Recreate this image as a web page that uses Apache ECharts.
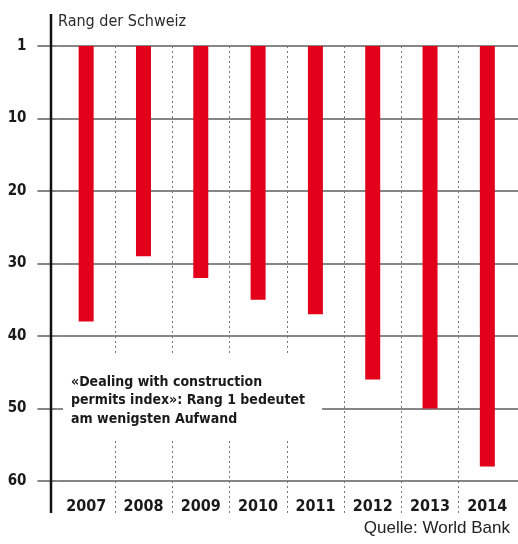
<!DOCTYPE html>
<html>
<head>
<meta charset="utf-8">
<script src="https://cdn.jsdelivr.net/npm/echarts@6/dist/echarts.min.js"></script>
<style>
html, body { margin: 0; padding: 0; background: #fff; }
#chart { width: 518px; height: 544px; }
</style>
</head>
<body>
<div id="chart"></div>
<script>
var years = ['2007', '2008', '2009', '2010', '2011', '2012', '2013', '2014'];
var rank = [38, 29, 32, 35, 37, 46, 50, 58];
var rankTicks = [0, 10, 20, 30, 40, 50, 60];

var narrow = "'Liberation Sans Narrow', 'DejaVu Sans Condensed', 'Roboto Condensed', sans-serif";
var gridColor = '#5e5e5e';

// axis 0 is labelled "1" (rank one)
function rankLabel(v) {
    return v === 0 ? '1' : String(v);
}

var chart = echarts.init(document.getElementById('chart'));

chart.setOption({
    animation: false,
    backgroundColor: '#fff',
    grid: { left: 57.5, right: 2, top: 46, bottom: 31 },
    xAxis: {
        type: 'category',
        data: years,
        axisLine: { show: false },
        axisTick: { show: false },
        axisLabel: {
            inside: true,
            margin: -2,
            color: '#1a1a1a',
            fontFamily: narrow,
            fontWeight: 'bold',
            fontSize: 16
        },
        splitLine: {
            show: true,
            lineStyle: {
                type: [2, 3],
                width: 1,
                color: ['transparent', '#777', '#777', '#777', '#777', '#777', '#777', '#777', 'transparent']
            }
        }
    },
    yAxis: [{
        type: 'value',
        inverse: true,
        min: 0,
        max: 64.4,
        interval: 10,
        position: 'left',
        axisLine: { show: false },
        axisTick: {
            show: true,
            length: 20,
            customValues: rankTicks,
            lineStyle: { color: gridColor, width: 1.5 }
        },
        axisLabel: {
            margin: 31,
            customValues: rankTicks,
            formatter: rankLabel,
            color: '#1a1a1a',
            fontFamily: narrow,
            fontWeight: 'bold',
            fontSize: 15
        },
        splitLine: {
            show: true,
            lineStyle: {
                width: 1.5,
                color: [gridColor, gridColor, gridColor, gridColor, gridColor, gridColor, gridColor, 'transparent']
            }
        }
    }, {
        type: 'value',
        inverse: true,
        min: 0,
        max: 64.4,
        interval: 10,
        position: 'right',
        axisLine: { show: false },
        axisTick: {
            show: true,
            length: 3,
            customValues: rankTicks,
            lineStyle: { color: gridColor, width: 1.5 }
        },
        axisLabel: { show: false },
        splitLine: { show: false }
    }],
    series: [{
        type: 'bar',
        data: rank,
        barWidth: 15,
        itemStyle: { color: '#e2001a' },
        z: 3
    }],
    graphic: [
        {
            type: 'line',
            z: 10,
            shape: { x1: 51, y1: 14, x2: 51, y2: 513 },
            style: { stroke: '#111', lineWidth: 2.5 }
        },
        {
            type: 'text',
            left: 58,
            top: 14,
            style: {
                text: 'Rang der Schweiz',
                fill: '#2a2a2a',
                font: '16px ' + narrow
            }
        },
        {
            type: 'rect',
            z: 20,
            shape: { x: 63, y: 356, width: 259, height: 84 },
            style: { fill: '#fff' }
        },
        {
            type: 'text',
            z: 21,
            left: 71,
            top: 373,
            style: {
                text: '«Dealing with construction\npermits index»: Rang 1 bedeutet\nam wenigsten Aufwand',
                fill: '#1a1a1a',
                font: 'bold 14px ' + narrow,
                lineHeight: 18.5
            }
        },
        {
            type: 'text',
            right: 8,
            top: 520,
            style: {
                text: 'Quelle: World Bank',
                fill: '#222',
                font: '17px "Liberation Sans", Arial, sans-serif'
            }
        }
    ]
});
</script>
</body>
</html>
